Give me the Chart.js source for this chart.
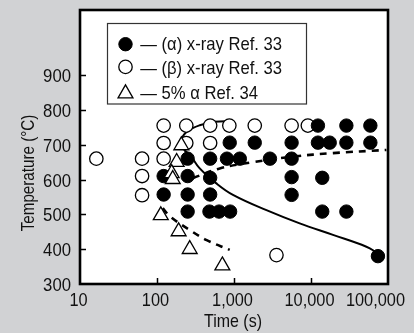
<!DOCTYPE html>
<html><head><meta charset="utf-8">
<script src="https://cdn.jsdelivr.net/npm/chart.js@4.4.1/dist/chart.umd.min.js"></script>
<style>html,body{margin:0;padding:0;background:#d1d2d4;}#c{display:block}</style>
</head><body>
<canvas id="c" width="414" height="333"></canvas>
<script>
const FONT = '"Liberation Sans",Arial,sans-serif';

const xTickValues = [10, 100, 1000, 10000, 100000];
const xTickLabels = ['10', '100', '1,000', '10,000', '100,000'];
const yTickValues = [300, 400, 500, 600, 700, 800, 900];
const xTitle = 'Time (s)';
const yTitle = 'Temperature (°C)';
const seriesLabels = ['(α) x-ray Ref. 33', '(β) x-ray Ref. 33', '5% α Ref. 34'];

const alphaTime = [122,122,250,250,250,250,490,490,490,480,640,890,880,810,1190,1860,2930,5600,5600,5600,5600,12300,12300,17500,14000,14000,28800,28800,28800,59000,59000,74000];
const alphaTemp = [610,557,660,610,557,508,660,605,557,508,508,508,706,660,660,706,660,706,660,607,556,755,706,706,605,508,755,706,508,755,706,380];

const betaTime = [16.3,64,64,64,122,122,122,240,240,490,490,870,1860,5600,9100,3560];
const betaTemp = [660,660,610,555,755,705,660,755,705,755,705,755,755,755,755,383];

const triTime = [207,180,155,160,112,191,266,706];
const triTemp = [698,650,618,601,497,451,400,353];

const solidTime = [933,561,359,250,209,222,274,359,590,970,2640,7130,19300,52400,74100];
const solidTemp = [768,766,756,739,716,688,668,632,589,556,512,474,441,407,388];

const dashUpTime = [291,652,1770,5830,19300,95300];
const dashUpTemp = [604,632,650,666,676,685];

const dashLowTime = [119,146,266,442,879];
const dashLowTemp = [518,495,455,426,398];

const pts = (xs, ys) => xs.map((x, i) => ({x: x, y: ys[i]}));

const lineDs = (xs, ys, dash) => ({
  data: pts(xs, ys), showLine: true, pointRadius: 0, borderColor: '#000',
  borderWidth: dash ? 2.6 : 2, borderDash: dash ? [7, 6] : [], tension: 0.4,
  fill: false, order: 10
});

function narrowText(ctx, text, x, y, align, size, sx) {
  ctx.save();
  ctx.font = size + 'px ' + FONT;
  ctx.translate(x, y);
  ctx.scale(sx, 1);
  ctx.textAlign = align;
  ctx.textBaseline = 'alphabetic';
  ctx.fillText(text, 0, 0);
  ctx.restore();
}
function narrowWidth(ctx, text, size, sx) {
  ctx.save();
  ctx.font = size + 'px ' + FONT;
  const w = ctx.measureText(text).width * sx;
  ctx.restore();
  return w;
}

const frame = {
  id: 'frame',
  beforeDraw(chart) {
    const {ctx, chartArea: a} = chart;
    ctx.save();
    ctx.fillStyle = '#d1d2d4';
    ctx.fillRect(0, 0, chart.width, chart.height);
    ctx.fillStyle = '#ffffff';
    ctx.fillRect(a.left, a.top, a.right - a.left, a.bottom - a.top);
    ctx.restore();
  },
  afterDraw(chart) {
    const {ctx, chartArea: a} = chart;
    const xs = chart.scales.x, ys = chart.scales.y;
    ctx.save();
    // inward ticks
    ctx.strokeStyle = '#000';
    ctx.lineWidth = 1.5;
    ctx.beginPath();
    xTickValues.slice(1, -1).forEach(v => {
      const px = Math.round(xs.getPixelForValue(v)) + 0.5;
      ctx.moveTo(px, a.bottom); ctx.lineTo(px, a.bottom - 6);
    });
    yTickValues.slice(1).forEach(v => {
      const py = Math.round(ys.getPixelForValue(v)) + 0.5;
      ctx.moveTo(a.left, py); ctx.lineTo(a.left + 6, py);
    });
    ctx.stroke();
    // frame
    ctx.lineWidth = 2.6;
    ctx.strokeRect(a.left, a.top, a.right - a.left, a.bottom - a.top);
    ctx.fillStyle = '#111';
    // x tick labels
    xTickValues.forEach((v, i) => {
      const t = xTickLabels[i];
      const w = narrowWidth(ctx, t, 19, 0.86);
      let cx = xs.getPixelForValue(v) - 1.5;
      cx = Math.min(cx, chart.width - 9 - w / 2);
      narrowText(ctx, t, cx, a.bottom + 22, 'center', 19, 0.86);
    });
    // y tick labels
    yTickValues.forEach(v => {
      narrowText(ctx, String(v), a.left - 9, ys.getPixelForValue(v) + 7, 'right', 19, 0.88);
    });
    // axis titles
    narrowText(ctx, xTitle, (a.left + a.right) / 2 - 1, a.bottom + 43, 'center', 19, 0.84);
    ctx.save();
    ctx.translate(34, a.top + 163);
    ctx.rotate(-Math.PI / 2);
    narrowText(ctx, yTitle, 0, 0, 'center', 18.5, 0.82);
    ctx.restore();
    // legend
    const bx = a.left + 27.5, by = a.top + 13.5, bw = 199, bh = 80.5;
    ctx.fillStyle = '#fff';
    ctx.fillRect(bx, by, bw, bh);
    ctx.strokeStyle = '#333';
    ctx.lineWidth = 1.2;
    ctx.strokeRect(bx, by, bw, bh);
    const styles = [
      {ps: 'circle', r: 6.7, fill: '#000', bw: 1},
      {ps: 'circle', r: 6.7, fill: '#fff', bw: 1.3},
      {ps: 'triangle', r: 8.6, fill: '#fff', bw: 1.3}
    ];
    const markerY = [20.7, 43.4, 70];
    const textY = [26.7, 50.7, 75];
    styles.forEach((s, i) => {
      ctx.fillStyle = s.fill;
      ctx.strokeStyle = '#000';
      ctx.lineWidth = s.bw;
      Chart.helpers.drawPoint(ctx, {pointStyle: s.ps, radius: s.r, borderWidth: s.bw, rotation: 0}, bx + 18, by + markerY[i]);
      ctx.fillStyle = '#111';
      narrowText(ctx, '— ' + seriesLabels[i], bx + 32.7, by + textY[i], 'left', 18.5, 0.9);
    });
    ctx.restore();
  }
};

new Chart(document.getElementById('c'), {
  type: 'scatter',
  data: {
    datasets: [
      {label: seriesLabels[2], data: pts(triTime, triTemp), pointStyle: 'triangle', pointRadius: 8.6,
       backgroundColor: '#fff', borderColor: '#000', borderWidth: 1.3, order: 1},
      {label: seriesLabels[0], data: pts(alphaTime, alphaTemp), pointStyle: 'circle', pointRadius: 6.7,
       backgroundColor: '#000', borderColor: '#000', borderWidth: 1, order: 2},
      {label: seriesLabels[1], data: pts(betaTime, betaTemp), pointStyle: 'circle', pointRadius: 6.7,
       backgroundColor: '#fff', borderColor: '#000', borderWidth: 1.3, order: 3},
      lineDs(solidTime, solidTemp, false),
      lineDs(dashUpTime, dashUpTemp, true),
      lineDs(dashLowTime, dashLowTemp, true)
    ]
  },
  options: {
    responsive: false,
    animation: false,
    devicePixelRatio: 1,
    layout: {padding: {top: 10, right: 26, bottom: 0, left: 0}, autoPadding: false},
    plugins: {legend: {display: false}, tooltip: {enabled: false}},
    scales: {
      x: {
        type: 'logarithmic', min: 10, max: 100000,
        afterBuildTicks: s => { s.ticks = xTickValues.map(v => ({value: v})); },
        afterFit: s => { s.height = 49; },
        grid: {display: false, drawTicks: false},
        border: {display: false},
        ticks: {display: false}
      },
      y: {
        type: 'linear', min: 300, max: 1087,
        afterBuildTicks: s => { s.ticks = yTickValues.map(v => ({value: v})); },
        afterFit: s => { s.width = 80; },
        grid: {display: false, drawTicks: false},
        border: {display: false},
        ticks: {display: false}
      }
    }
  },
  plugins: [frame]
});
</script>
</body></html>
